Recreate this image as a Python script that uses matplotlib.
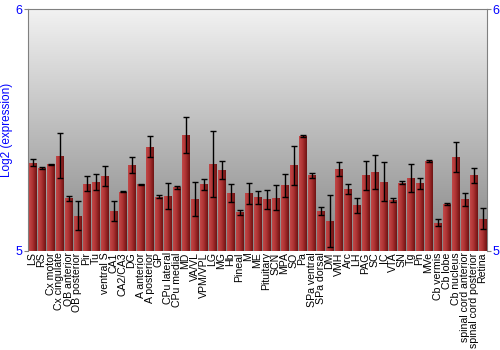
import numpy as np
import matplotlib.pyplot as plt
from matplotlib.colors import LinearSegmentedColormap

plt.rcParams['font.family'] = ['Liberation Sans', 'DejaVu Sans']

# Regions and log2 expression values (mean, error)
regions = ['LS', 'RS', 'Cx motor', 'Cx cingulate', 'OB anterior', 'OB posterior',
           'Pir', 'Tu', 'ventral S', 'CA1', 'CA2/CA3', 'DG', 'A anterior',
           'A posterior', 'GP', 'CPu lateral', 'CPu medial', 'MD', 'VA/VL',
           'VPM/VPL', 'LG', 'MG', 'Hb', 'Pineal', 'M', 'ME', 'Pituitary', 'SCN',
           'MPA', 'SO', 'Pa', 'SPa ventral', 'SPa dorsal', 'DM', 'VMH', 'Arc',
           'LH', 'PAG', 'SC', 'IC', 'VTA', 'SN', 'Tg', 'Pn', 'MVe', 'Cb vermis',
           'Cb lobe', 'Cb nucleus', 'spinal cord anterior',
           'spinal cord posterior', 'Retina']
values = [5.365, 5.344, 5.358, 5.394, 5.217, 5.146, 5.278, 5.285, 5.311, 5.164,
          5.245, 5.356, 5.275, 5.431, 5.225, 5.227, 5.264, 5.479, 5.215, 5.276,
          5.360, 5.334, 5.239, 5.160, 5.239, 5.222, 5.213, 5.221, 5.271, 5.354,
          5.475, 5.312, 5.164, 5.123, 5.338, 5.256, 5.189, 5.312, 5.327, 5.287,
          5.211, 5.282, 5.302, 5.280, 5.372, 5.117, 5.195, 5.390, 5.213, 5.312,
          5.134]
errors = [0.014, 0.004, 0.002, 0.092, 0.010, 0.061, 0.032, 0.032, 0.041, 0.041,
          0.002, 0.034, 0.002, 0.043, 0.008, 0.054, 0.006, 0.074, 0.072, 0.023,
          0.137, 0.037, 0.037, 0.010, 0.043, 0.026, 0.041, 0.052, 0.046, 0.080,
          0.003, 0.012, 0.016, 0.107, 0.028, 0.022, 0.032, 0.060, 0.070, 0.082,
          0.009, 0.006, 0.057, 0.023, 0.003, 0.015, 0.005, 0.062, 0.028, 0.032,
          0.045]

fig = plt.figure(figsize=(5, 3.5), dpi=100)
ax = fig.add_axes([0.056, 0.283, 0.918, 0.691])

x = np.arange(len(regions))
ax.set_xlim(-0.5, len(regions) - 0.5)
ax.set_ylim(5, 6)

# grey gradient background
bg = np.linspace(0, 1, 256).reshape(-1, 1)
bg_cmap = LinearSegmentedColormap.from_list('bg', ['#868686', '#f2f2f2'])
ax.imshow(bg, cmap=bg_cmap, aspect='auto', origin='lower',
          extent=[-0.5, len(regions) - 0.5, 5, 6], zorder=0)

bars = ax.bar(x, np.array(values) - 5, bottom=5, width=0.86,
              color='#a83232', edgecolor='none', zorder=2)

# horizontal shading inside each bar
shade = np.linspace(0, 1, 64).reshape(1, -1)
bar_cmap = LinearSegmentedColormap.from_list(
    'bar', ['#c04848', '#b83c3c', '#a83030', '#8c2020', '#6e1414'])
for b in bars:
    x0, w, h = b.get_x(), b.get_width(), b.get_height()
    im = ax.imshow(shade, cmap=bar_cmap, aspect='auto',
                   extent=[x0, x0 + w, 5, 5 + h], zorder=3)
    im.set_clip_path(b)

ax.errorbar(x, values, yerr=errors, fmt='none', ecolor='black',
            elinewidth=1, capsize=2.2, capthick=1, zorder=4)

ax.set_xticks(x)
ax.set_xticklabels(regions, rotation=90, fontsize=7.6)
ax.tick_params(axis='x', length=0, pad=1)

ax.set_yticks([5, 6])
ax.set_yticklabels(['5', '6'])
ax.tick_params(axis='y', colors='#808080', labelcolor='blue', labelsize=9,
               length=3, pad=1, right=True, labelright=True)
ax.set_ylabel('Log2 (expression)', color='blue', fontsize=8.5, labelpad=2)

for side in ['left', 'right', 'top']:
    ax.spines[side].set_color('#808080')
ax.spines['bottom'].set_visible(False)

fig.savefig('out.png', dpi=100)
